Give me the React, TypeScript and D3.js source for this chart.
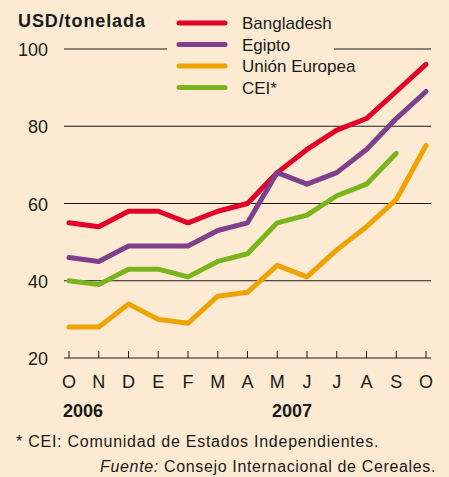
import { useEffect, useRef } from "react";
import * as d3 from "d3";

const months = ["O", "N", "D", "E", "F", "M", "A", "M", "J", "J", "A", "S", "O"];
const bangladesh = [55, 54, 58, 58, 55, 58, 60, 68, 74, 79, 82, 89, 96];
const egipto = [46, 45, 49, 49, 49, 53, 55, 68, 65, 68, 74, 82, 89];
const unionEuropea = [28, 28, 34, 30, 29, 36, 37, 44, 41, 48, 54, 61, 75];
const cei = [40, 39, 43, 43, 41, 45, 47, 55, 57, 62, 65, 73];
const yTicks = [20, 40, 60, 80, 100];

const seriesNames = ["Bangladesh", "Egipto", "Unión Europea", "CEI*"];
const seriesColors = ["#e2002a", "#7f3f8b", "#f0a200", "#7ab51d"];

const W = 449;
const H = 477;
const FONT = "'Liberation Sans', Arial, Helvetica, sans-serif";

export default function App() {
  const ref = useRef<SVGSVGElement>(null);

  useEffect(() => {
    const svg = d3.select(ref.current);
    svg.selectAll("*").remove();

    const x = d3.scalePoint<number>().domain(d3.range(months.length)).range([69, 426]);
    const y = d3.scaleLinear().domain([20, 100]).range([358, 49]);

    svg.append("rect").attr("width", W).attr("height", H).attr("fill", "#fcebd2");

    // gridlines (the 100 line is broken by the legend)
    yTicks.forEach((t) => {
      const segs = t === 100 ? [[64, 167], [334, 431]] : [[64, 431]];
      segs.forEach(([a, b]) => {
        svg.append("line").attr("x1", a).attr("x2", b).attr("y1", y(t)).attr("y2", y(t))
          .attr("stroke", "#1a1a1a").attr("stroke-width", 1);
      });
      svg.append("text").attr("x", 48).attr("y", y(t) + 7).attr("text-anchor", "end")
        .attr("font-family", FONT).attr("font-size", 18).attr("fill", "#1a1a1a").text(t);
    });

    // x ticks and labels
    months.forEach((m, i) => {
      svg.append("line").attr("x1", x(i)!).attr("x2", x(i)!).attr("y1", 358).attr("y2", 351)
        .attr("stroke", "#1a1a1a").attr("stroke-width", 1);
      svg.append("text").attr("x", x(i)!).attr("y", 388).attr("text-anchor", "middle")
        .attr("font-family", FONT).attr("font-size", 18).attr("fill", "#1a1a1a").text(m);
    });

    svg.append("text").attr("x", 63).attr("y", 417).attr("font-family", FONT)
      .attr("font-size", 18).attr("font-weight", "bold").attr("fill", "#1a1a1a").text("2006");
    svg.append("text").attr("x", 272).attr("y", 417).attr("font-family", FONT)
      .attr("font-size", 18).attr("font-weight", "bold").attr("fill", "#1a1a1a").text("2007");

    svg.append("text").attr("x", 18).attr("y", 27).attr("font-family", FONT)
      .attr("font-size", 18).attr("font-weight", "bold").attr("letter-spacing", 0.9)
      .attr("fill", "#1a1a1a").text("USD/tonelada");

    // series lines
    const line = d3.line<number>().x((_, i) => x(i)!).y((d) => y(d));
    [bangladesh, egipto, unionEuropea, cei].forEach((data, k) => {
      svg.append("path").datum(data).attr("d", line).attr("fill", "none")
        .attr("stroke", seriesColors[k]).attr("stroke-width", 5)
        .attr("stroke-linecap", "round").attr("stroke-linejoin", "round");
    });

    // legend
    seriesNames.forEach((name, k) => {
      const ly = 23 + k * 21.5;
      svg.append("line").attr("x1", 179).attr("x2", 225).attr("y1", ly).attr("y2", ly)
        .attr("stroke", seriesColors[k]).attr("stroke-width", 5).attr("stroke-linecap", "round");
      svg.append("text").attr("x", 242).attr("y", ly + 6).attr("font-family", FONT)
        .attr("font-size", 17).attr("fill", "#1a1a1a").text(name);
    });

    // footnotes
    svg.append("text").attr("x", 16).attr("y", 447).attr("font-family", FONT)
      .attr("font-size", 16).attr("letter-spacing", 0.75).attr("fill", "#1a1a1a")
      .text("* CEI: Comunidad de Estados Independientes.");
    const src = svg.append("text").attr("x", 436).attr("y", 472).attr("text-anchor", "end")
      .attr("font-family", FONT).attr("font-size", 16).attr("letter-spacing", 0.65).attr("fill", "#1a1a1a");
    src.append("tspan").attr("font-style", "italic").text("Fuente:");
    src.append("tspan").text(" Consejo Internacional de Cereales.");
  }, []);

  return (
    <svg ref={ref} width={W} height={H} style={{ position: "absolute", left: 0, top: 0, display: "block" }} />
  );
}
